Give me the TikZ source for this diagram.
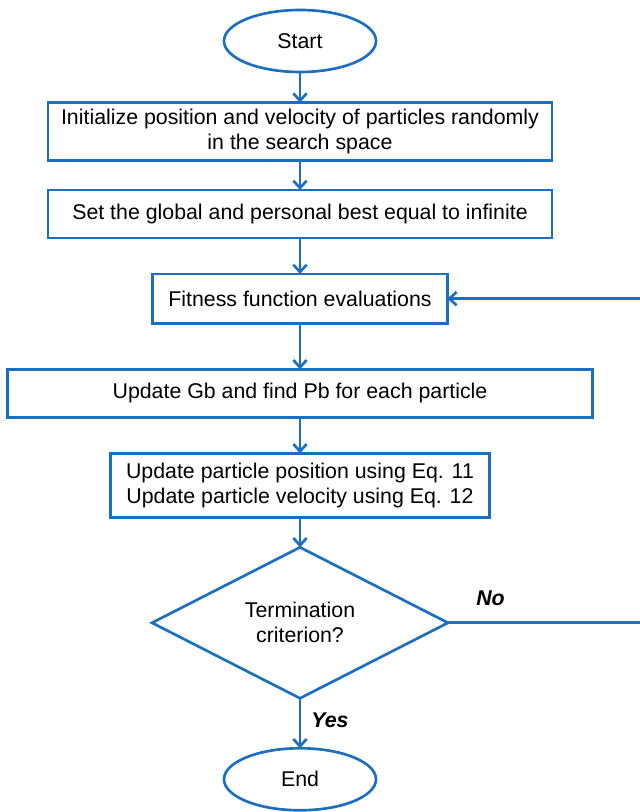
\documentclass[tikz,border=0pt]{standalone}
\usepackage{fontspec}
\setmainfont{Liberation Sans}
\usepackage{tikz}
\usetikzlibrary{shapes.geometric, arrows.meta, positioning, calc}
\definecolor{cBlue}{HTML}{1B6FC2}
\tikzset{
  base/.style={
    draw=cBlue, line width=2pt, align=center, inner sep=0pt, outer sep=0pt,
    font=\fontsize{16}{18.75}\selectfont
  },
  term/.style={base, ellipse, minimum width=114pt, minimum height=46.5pt},
  box/.style={base, rectangle, minimum width=#1, minimum height=36pt},
  box/.default=378pt,
  dec/.style={base, diamond, minimum width=222pt, minimum height=112.5pt},
  arrow/.style={-{Straight Barb[length=5.5pt, width=10pt]}, line width=2pt, cBlue},
  anno/.style={font=\fontsize{16}{18.75}\selectfont\bfseries\itshape, text=black},
}

\begin{document}
\begin{tikzpicture}
  \useasboundingbox (-225pt,30.75pt) rectangle (254.25pt,-578.25pt);

  % Main column
  \node[term] (start) at (0,0) {Start};
  \node[box, minimum height=43.5pt, below=23pt of start] (init)
    {Initialize position and velocity of particles randomly\\in the search space};
  \node[box, below=22pt of init] (best)
    {Set the global and personal best equal to infinite};
  \node[box=221pt, minimum height=37pt, below=27pt of best] (fit)
    {Fitness function evaluations};
  \node[box=439pt, below=34.5pt of fit] (upd)
    {Update Gb and find Pb for each particle};
  \node[box=284pt, minimum height=48pt, below=27pt of upd] (move)
    {Update particle position using Eq. 11\\Update particle velocity using Eq. 12};
  \node[dec, below=22.5pt of move] (crit) {Termination\\criterion?};
  \node[term, below=37.5pt of crit] (stop) {End};

  % Arrows: main column
  \draw[arrow] (start) -- (init);
  \draw[arrow] (init)  -- (best);
  \draw[arrow] (best)  -- (fit);
  \draw[arrow] (fit)   -- (upd);
  \draw[arrow] (upd)   -- (move);
  \draw[arrow] (move)  -- (crit);
  \draw[arrow] (crit)  -- (stop)
    node[anno, midway, xshift=22.5pt, yshift=2.25pt] (yes) {Yes};

  % Loop back (vertical leg runs along the right edge)
  \draw[arrow] (crit.east) -- ++(145pt,0)
    node[anno, pos=0.22, yshift=18.75pt] (no) {No}
    |- (fit.east);
\end{tikzpicture}
\end{document}
